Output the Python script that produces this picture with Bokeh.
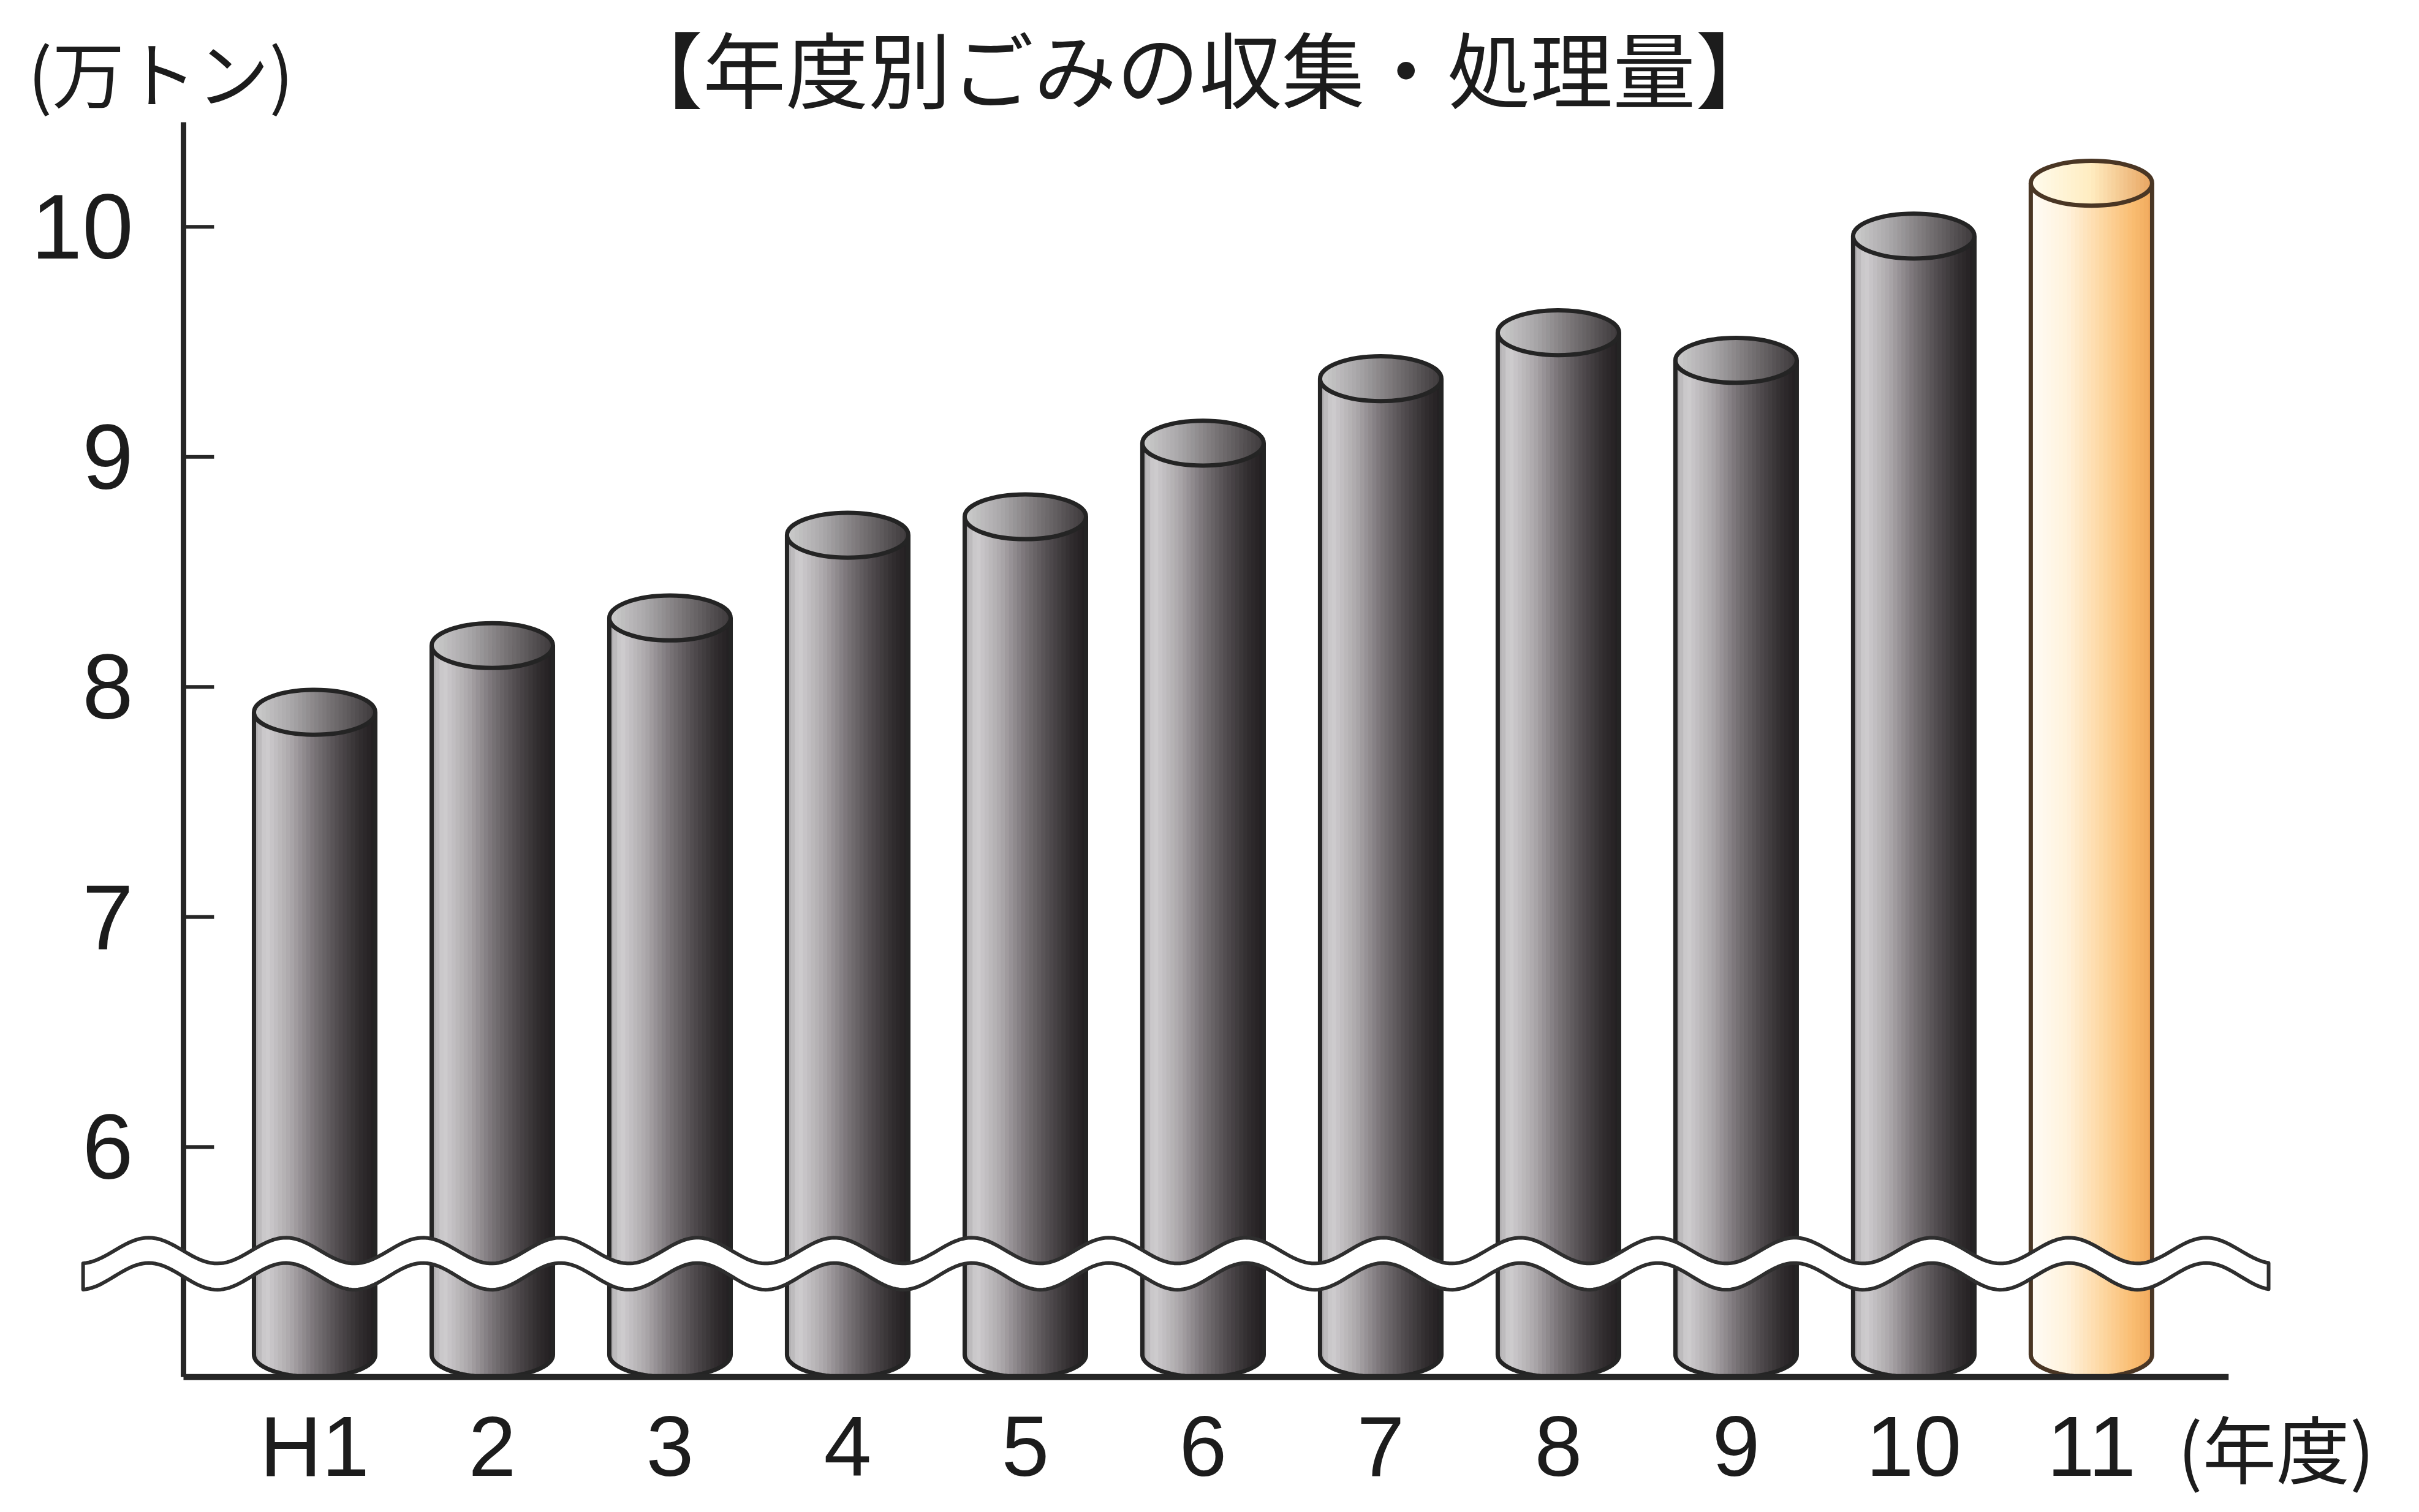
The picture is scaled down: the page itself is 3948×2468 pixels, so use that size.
import numpy as np
from bokeh.plotting import figure
from bokeh.models import Range1d
from bokeh.core.properties import value
from bokeh.embed import file_html
from bokeh.resources import INLINE

# ---------------- data ----------------
title_text = "【年度別ごみの収集・処理量】"
unit_text = "(万トン)"
x_unit_text = "(年度)"
categories = ["H1", "2", "3", "4", "5", "6", "7", "8", "9", "10", "11"]
amounts = [7.89, 8.18, 8.30, 8.66, 8.74, 9.06, 9.34, 9.54, 9.42, 9.96, 10.19]
highlight = [False] * 10 + [True]
y_ticks = [6, 7, 8, 9, 10]
y_floor = 5.0      # value at the (broken) baseline
break_at = 5.5     # where the wavy break band sits

# ---------------- styles ----------------
W, H = 3932, 2452
bar_w = 0.683
ell_h = 0.195
hh = ell_h / 2
N = 30
outline_gray = "#242424"
outline_orange = "#4a3624"
text_color = "#1c1c1c"
num_font = value("Liberation Sans")
jp_font = value("Noto Sans CJK JP")

gray_body = [(0.0, (170, 168, 170)), (0.1, (208, 206, 208)), (0.3, (172, 168, 171)),
             (0.5, (122, 116, 120)), (0.7, (80, 75, 78)), (0.88, (48, 44, 46)), (1.0, (34, 31, 33))]
gray_cap = [(0.0, (205, 205, 205)), (0.3, (170, 168, 170)), (0.6, (122, 118, 120)), (1.0, (60, 56, 58))]
orange_body = [(0.0, (255, 252, 246)), (0.3, (255, 242, 220)), (0.6, (253, 214, 160)),
               (0.85, (249, 188, 112)), (1.0, (240, 168, 92))]
orange_cap = [(0.0, (255, 252, 238)), (0.5, (255, 236, 192)), (1.0, (232, 164, 96))]


def ramp(t, anchors):
    for (t0, c0), (t1, c1) in zip(anchors[:-1], anchors[1:]):
        if t <= t1:
            f = (t - t0) / (t1 - t0) if t1 > t0 else 0
            c = [round(a + (b - a) * f) for a, b in zip(c0, c1)]
            return "#%02x%02x%02x" % tuple(c)
    return "#%02x%02x%02x" % anchors[-1][1]


p = figure(width=W, height=H,
           x_range=Range1d(-1.769, 11.79), y_range=Range1d(4.455, 10.985),
           x_axis_type=None, y_axis_type=None,
           output_backend="svg", toolbar_location=None,
           min_border=0, outline_line_color=None,
           background_fill_color="white", border_fill_color="white")
p.grid.grid_line_color = None

xs = list(range(len(categories)))
bottom_c = y_floor + hh

# ---------- cylinder bodies and caps as shaded strips ----------
bx, bb, bt, bc = [], [], [], []
cx, cb, ct, cc = [], [], [], []
for i, (v, hl) in enumerate(zip(amounts, highlight)):
    for k in range(N):
        u = -1 + (2 * k + 1) / N
        s = np.sqrt(max(0.0, 1 - u * u))
        t = (u + 1) / 2
        bx.append(i + u * bar_w / 2)
        bb.append(bottom_c - hh * s)
        bt.append(v)
        bc.append(ramp(t, orange_body if hl else gray_body))
        cx.append(i + u * bar_w / 2)
        cb.append(v - hh * s)
        ct.append(v + hh * s)
        cc.append(ramp(t, orange_cap if hl else gray_cap))

p.vbar(x=bx, bottom=bb, top=bt, width=bar_w / N * 1.12, fill_color=bc, line_color=None)
p.vbar(x=cx, bottom=cb, top=ct, width=bar_w / N * 1.12, fill_color=cc, line_color=None)

# ---------- outlines ----------
theta = np.linspace(np.pi, 2 * np.pi, 48)
ox, oy, ocol = [], [], []
for i, (v, hl) in enumerate(zip(amounts, highlight)):
    xl, xr = i - bar_w / 2, i + bar_w / 2
    ox.append([xl, xl] + list(i + bar_w / 2 * np.cos(theta)) + [xr, xr])
    oy.append([v, bottom_c] + list(bottom_c + hh * np.sin(theta)) + [bottom_c, v])
    ocol.append(outline_orange if hl else outline_gray)
p.multi_line(xs=ox, ys=oy, line_color=ocol, line_width=7, line_join="round")
p.ellipse(x=xs, y=amounts, width=bar_w, height=ell_h, fill_color=None,
          line_color=ocol, line_width=7)

# ---------- axes ----------
axis_x = -0.738
axis_top = 10.455
axis_end = 10.772
p.segment(x0=[axis_x], y0=[y_floor], x1=[axis_x], y1=[axis_top],
          line_color="#262626", line_width=9)
p.segment(x0=[axis_x] * len(y_ticks), y0=y_ticks,
          x1=[axis_x + 0.172] * len(y_ticks), y1=y_ticks,
          line_color="#262626", line_width=6)

# ---------- wavy break band ----------
wx = np.linspace(-1.303, 10.997, 700)
ph = 2 * np.pi * (wx + 0.934) / 0.772
up = break_at + 0.05 + 0.056 * np.cos(ph)
lo = break_at - 0.062 + 0.058 * np.cos(ph)
p.patch(np.concatenate([wx, wx[::-1]]), np.concatenate([up, lo[::-1]]),
        fill_color="white", line_color="#2e2e2e", line_width=6, line_join="round")

# baseline
p.segment(x0=[axis_x], y0=[y_floor], x1=[axis_end], y1=[y_floor],
          line_color="#262626", line_width=10)

# ---------- texts ----------
p.text(x=[-1.02] * len(y_ticks), y=y_ticks, text=[str(t) for t in y_ticks],
       text_align="right", text_baseline="middle", text_font=num_font,
       text_font_size="150px", text_color=text_color)
p.text(x=xs, y=[4.70] * len(xs), text=categories,
       text_align="center", text_baseline="middle", text_font=num_font,
       text_font_size="140px", text_color=text_color)
p.text(x=[10.486], y=[4.70], text=[x_unit_text],
       text_align="left", text_baseline="middle", text_font=jp_font,
       text_font_size="120px", text_color=text_color)
p.text(x=[-0.866], y=[10.679], text=[unit_text],
       text_align="center", text_baseline="middle", text_font=jp_font,
       text_font_size="118px", text_color=text_color)
p.text(x=[4.979], y=[10.96], text=[title_text],
       text_align="center", text_baseline="top", text_font=jp_font,
       text_font_size="135px", text_color=text_color)

open("out.html", "w").write(file_html(p, INLINE))
